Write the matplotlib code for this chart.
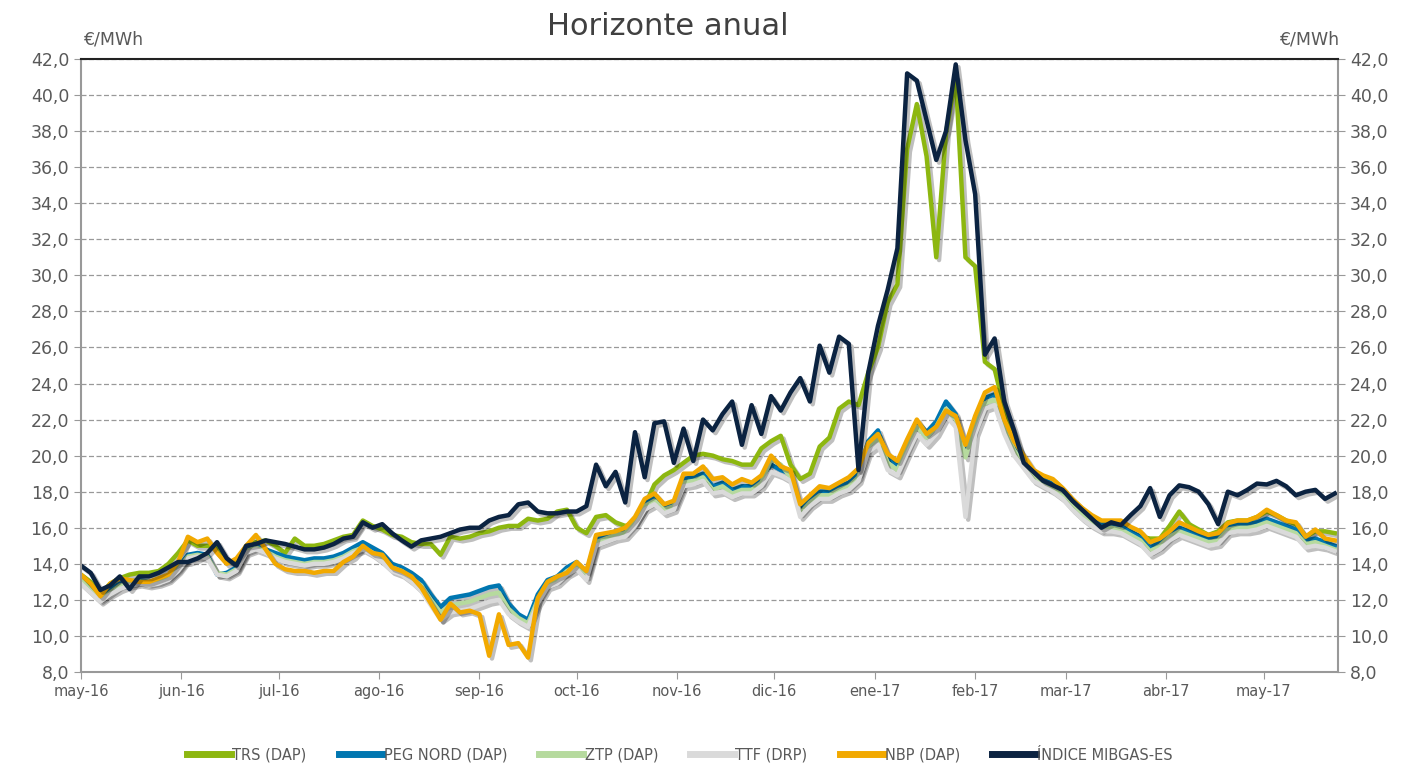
import matplotlib
matplotlib.use('Agg')
import matplotlib.pyplot as plt
import matplotlib.dates as mdates
import matplotlib.patheffects as pe
from matplotlib.ticker import FuncFormatter, MultipleLocator
import pandas as pd

# dates: every 3 days from 1 May 2016
dates = pd.date_range('2016-05-01', periods=130, freq='3D')

trs = [13.4, 13.0, 12.3, 12.9, 13.2, 13.4, 13.5, 13.5, 13.6, 14.0,
       14.6, 15.3, 15.0, 15.0, 14.9, 14.2, 14.0, 15.0, 15.2, 15.3,
       15.0, 14.6, 15.4, 15.0, 15.0, 15.1, 15.3, 15.5, 15.6, 16.4,
       16.1, 15.9, 15.6, 15.5, 15.2, 15.1, 15.1, 14.5, 15.5, 15.4,
       15.5, 15.7, 15.8, 16.0, 16.1, 16.1, 16.5, 16.4, 16.5, 16.9,
       17.0, 16.0, 15.7, 16.6, 16.7, 16.3, 16.1, 16.3, 17.2, 18.4,
       18.9, 19.2, 19.6, 20.0, 20.1, 20.0, 19.8, 19.7, 19.5, 19.5,
       20.4, 20.8, 21.1, 19.5, 18.7, 19.0, 20.5, 21.0, 22.6, 23.0,
       22.8, 24.6, 26.0, 28.5, 29.5, 37.0, 39.5, 36.6, 31.0, 37.9,
       41.0, 31.0, 30.5, 25.2, 24.8, 22.6, 21.2, 19.7, 19.0, 18.5,
       18.2, 18.0, 17.4, 16.9, 16.3, 15.9, 16.3, 16.2, 15.7, 15.5,
       15.4, 15.4, 16.1, 16.9, 16.2, 15.9, 15.6, 15.8, 16.3, 16.4,
       16.4, 16.6, 16.9, 16.7, 16.4, 16.2, 15.5, 15.8, 15.8, 15.7]

peg = [13.3, 12.7, 12.1, 12.6, 12.9, 13.0, 13.1, 13.0, 13.1, 13.3,
       13.8, 14.5, 14.6, 14.5, 13.4, 13.5, 13.8, 14.8, 15.0, 14.8,
       14.6, 14.4, 14.3, 14.2, 14.3, 14.3, 14.4, 14.6, 14.9, 15.2,
       14.9, 14.6, 14.0, 13.8, 13.5, 13.1, 12.3, 11.6, 12.1, 12.2,
       12.3, 12.5, 12.7, 12.8, 11.8, 11.2, 10.9, 12.3, 13.1, 13.3,
       13.8, 14.1, 13.5, 15.4, 15.6, 15.8, 15.9, 16.5, 17.4, 17.7,
       17.2, 17.4, 18.7, 18.8, 19.0, 18.3, 18.5, 18.1, 18.3, 18.3,
       18.7, 19.5, 19.2, 19.0, 17.0, 17.6, 18.0, 18.0, 18.3, 18.5,
       19.0, 20.8, 21.4, 19.9, 19.5, 20.7, 21.9, 21.3, 21.9, 23.0,
       22.3, 20.2, 22.0, 23.2, 23.4, 21.8, 20.6, 19.7, 19.0, 18.7,
       18.4, 18.0, 17.4, 16.9, 16.5, 16.2, 16.2, 16.1, 15.8, 15.5,
       14.9, 15.2, 15.6, 16.0, 15.8, 15.6, 15.4, 15.5, 16.1, 16.2,
       16.2, 16.3, 16.5, 16.3, 16.1, 15.9, 15.3, 15.4, 15.2, 15.0]

ztp = [13.1, 12.5, 12.0, 12.4, 12.8, 12.9, 13.0, 12.9, 13.0, 13.2,
       13.7, 14.4, 14.5, 14.4, 13.5, 13.4, 13.7, 14.7, 14.9, 14.7,
       14.4, 14.2, 14.1, 14.0, 14.1, 14.1, 14.2, 14.4, 14.7, 14.9,
       14.6, 14.3, 13.8, 13.6, 13.2, 12.8, 12.0, 11.3, 11.7, 11.8,
       11.9, 12.1, 12.3, 12.4, 11.5, 11.0, 10.7, 12.0, 12.9, 13.1,
       13.6, 13.9, 13.3, 15.2, 15.4, 15.6, 15.7, 16.3, 17.2, 17.5,
       17.0, 17.2, 18.5, 18.6, 18.8, 18.1, 18.3, 17.9, 18.1, 18.1,
       18.5, 19.8, 19.5, 18.8, 16.8, 17.4, 17.8, 17.8, 18.1, 18.3,
       18.8, 20.5, 21.0, 19.6, 19.2, 20.4, 21.6, 21.0, 21.6, 22.6,
       22.0, 19.9, 21.7, 22.9, 23.1, 21.5, 20.3, 19.5, 18.8, 18.5,
       18.2, 17.8, 17.2, 16.7, 16.3, 16.0, 16.0, 15.9, 15.6, 15.3,
       14.7, 15.0, 15.5, 15.8, 15.6, 15.4, 15.2, 15.3, 15.9, 16.0,
       16.0, 16.1, 16.3, 16.1, 15.9, 15.7, 15.1, 15.2, 15.0, 14.8]

ttf = [12.9, 12.4, 11.9, 12.3, 12.6, 12.8, 12.9, 12.8, 12.9, 13.1,
       13.6, 14.3, 14.4, 14.3, 13.4, 13.3, 13.6, 14.6, 14.8, 14.6,
       14.3, 14.1, 14.0, 13.9, 14.0, 14.0, 14.1, 14.3, 14.6, 14.8,
       14.5, 14.1, 13.6, 13.4, 13.0, 12.5, 11.7, 10.9, 11.3, 11.4,
       11.5, 11.7, 11.9, 12.0, 11.2, 10.8, 10.5, 11.8, 12.7, 12.9,
       13.4, 13.7, 13.1, 15.0, 15.2, 15.4, 15.5, 16.1, 17.0, 17.3,
       16.8, 17.0, 18.3, 18.4, 18.6, 17.9, 18.0, 17.7, 17.9, 17.9,
       18.3, 19.1, 18.9, 18.6, 16.6, 17.2, 17.6, 17.6, 17.9, 18.1,
       18.6, 20.2, 20.6, 19.2, 18.9, 20.1, 21.2, 20.6, 21.2, 22.2,
       21.6, 16.6, 21.2, 22.6, 22.8, 21.2, 20.0, 19.3, 18.6, 18.3,
       18.0, 17.6, 17.0, 16.5, 16.1, 15.8, 15.8, 15.7, 15.4, 15.1,
       14.5, 14.8, 15.3, 15.6, 15.4, 15.2, 15.0, 15.1, 15.7, 15.8,
       15.8, 15.9, 16.1, 15.9, 15.7, 15.5, 14.9, 15.0, 14.9, 14.7]

nbp = [13.4, 12.9, 12.2, 12.9, 13.2, 13.1, 13.0, 13.0, 13.2, 13.4,
       14.1, 15.5, 15.2, 15.4, 14.6, 14.0, 14.3, 15.0, 15.6, 14.8,
       14.0, 13.7, 13.6, 13.6, 13.5, 13.6, 13.6, 14.1, 14.4, 15.0,
       14.6, 14.5, 13.8, 13.6, 13.3, 12.7, 11.8, 10.9, 11.8, 11.3,
       11.4, 11.2, 8.9, 11.2, 9.5, 9.6, 8.8, 12.1, 13.0, 13.3,
       13.5, 14.1, 13.6, 15.6, 15.7, 15.8, 16.0, 16.6, 17.6, 17.9,
       17.3, 17.5, 19.0, 19.0, 19.4, 18.7, 18.8, 18.4, 18.7, 18.5,
       18.9, 20.0, 19.4, 19.2, 17.3, 17.8, 18.3, 18.2, 18.5, 18.8,
       19.3, 20.7, 21.2, 20.1, 19.7, 20.9, 22.0, 21.2, 21.6, 22.5,
       22.2, 20.6, 22.2, 23.5, 23.8, 22.0, 20.8, 20.0, 19.2, 18.9,
       18.7, 18.2, 17.6, 17.1, 16.7, 16.4, 16.4, 16.4, 16.05, 15.8,
       15.2, 15.4, 15.8, 16.3, 16.05, 15.8, 15.6, 15.7, 16.25, 16.4,
       16.4, 16.6, 17.0, 16.7, 16.4, 16.3, 15.5, 15.9, 15.4, 15.3]

mibgas = [13.9, 13.5, 12.55, 12.8, 13.3, 12.6, 13.3, 13.3, 13.5, 13.8,
          14.1, 14.1, 14.3, 14.6, 15.2, 14.3, 13.9, 15.0, 15.1, 15.3,
          15.2, 15.1, 14.95, 14.8, 14.8, 14.9, 15.1, 15.4, 15.5, 16.3,
          16.0, 16.2, 15.7, 15.3, 14.95, 15.3, 15.4, 15.5, 15.7, 15.9,
          16.0, 16.0, 16.4, 16.6, 16.7, 17.3, 17.4, 16.9, 16.8, 16.8,
          16.9, 16.9, 17.2, 19.5, 18.3, 19.1, 17.4, 21.3, 18.8, 21.8,
          21.9, 19.6, 21.5, 19.7, 22.0, 21.4, 22.3, 23.0, 20.6, 22.8,
          21.2, 23.3, 22.5, 23.5, 24.3, 23.0, 26.1, 24.6, 26.6, 26.2,
          19.2, 24.6, 27.2, 29.2, 31.5, 41.2, 40.8, 38.6, 36.4, 38.0,
          41.7, 37.5, 34.5, 25.6, 26.5, 23.0, 21.4, 19.6, 19.1, 18.6,
          18.35, 18.1, 17.5, 17.0, 16.5, 16.0, 16.3, 16.15, 16.7, 17.2,
          18.2, 16.6, 17.8, 18.35, 18.25, 18.0, 17.3, 16.2, 18.0, 17.8,
          18.1, 18.45, 18.4, 18.6, 18.3, 17.8, 18.0, 18.1, 17.6, 17.9]

series = [
    ('TRS (DAP)', trs, '#8DB710'),
    ('PEG NORD (DAP)', peg, '#0076B0'),
    ('ZTP (DAP)', ztp, '#B6DA9E'),
    ('TTF (DRP)', ttf, '#DADADA'),
    ('NBP (DAP)', nbp, '#F2A900'),
    ('ÍNDICE MIBGAS-ES', mibgas, '#0B2341'),
]

txt = '#595959'
fig = plt.figure(figsize=(14.08, 7.65), dpi=100)
ax = fig.add_axes([0.0575, 0.1216, 0.8928, 0.8013])

shadow = [pe.SimpleLineShadow(offset=(2, -2), alpha=0.25, shadow_color='black'), pe.Normal()]
for name, vals, col in series:
    ax.plot(dates, vals, color=col, lw=3.2, label=name, solid_joinstyle='round',
            path_effects=shadow)

ax.set_ylim(8, 42)
ax.set_xlim(pd.Timestamp('2016-05-01'), pd.Timestamp('2017-05-24'))
ax.yaxis.set_major_locator(MultipleLocator(2))
ax.yaxis.set_major_formatter(FuncFormatter(lambda v, p: f'{v:.1f}'.replace('.', ',')))
ax.tick_params(axis='y', which='both', left=True, right=True, labelleft=True,
               labelright=True, labelsize=12.5, colors=txt, length=5, color='#999999')
ax.xaxis.set_major_locator(mdates.MonthLocator())
months = ['ene', 'feb', 'mar', 'abr', 'may', 'jun', 'jul', 'ago', 'sep', 'oct', 'nov', 'dic']
ax.xaxis.set_major_formatter(FuncFormatter(
    lambda v, p: f"{months[mdates.num2date(v).month - 1]}-{mdates.num2date(v).strftime('%y')}"))
ax.tick_params(axis='x', labelsize=10.5, colors=txt, length=5, color='#999999')

ax.grid(axis='y', linestyle=(0, (4, 2)), color='#999999', lw=0.9)
for s in ['left', 'right', 'bottom']:
    ax.spines[s].set_color('#999999')
    ax.spines[s].set_linewidth(1.5)
ax.spines['top'].set_color('#222222')
ax.spines['top'].set_linewidth(1.5)

fig.text(0.4744, 0.965, 'Horizonte anual', ha='center', va='center', fontsize=22, color='#404040')
fig.text(0.059, 0.948, '€/MWh', ha='left', va='center', fontsize=12.5, color=txt)
fig.text(0.951, 0.948, '€/MWh', ha='right', va='center', fontsize=12.5, color=txt)

leg = fig.legend(loc='center', bbox_to_anchor=(0.483, 0.013), ncol=6, frameon=False,
                 fontsize=10.5, handlelength=3, handletextpad=0.1, columnspacing=2.2)
for t in leg.get_texts():
    t.set_color(txt)
for h in leg.legend_handles:
    h.set_linewidth(5)
    h.set_path_effects([])

fig.savefig('out.png', dpi=100)
